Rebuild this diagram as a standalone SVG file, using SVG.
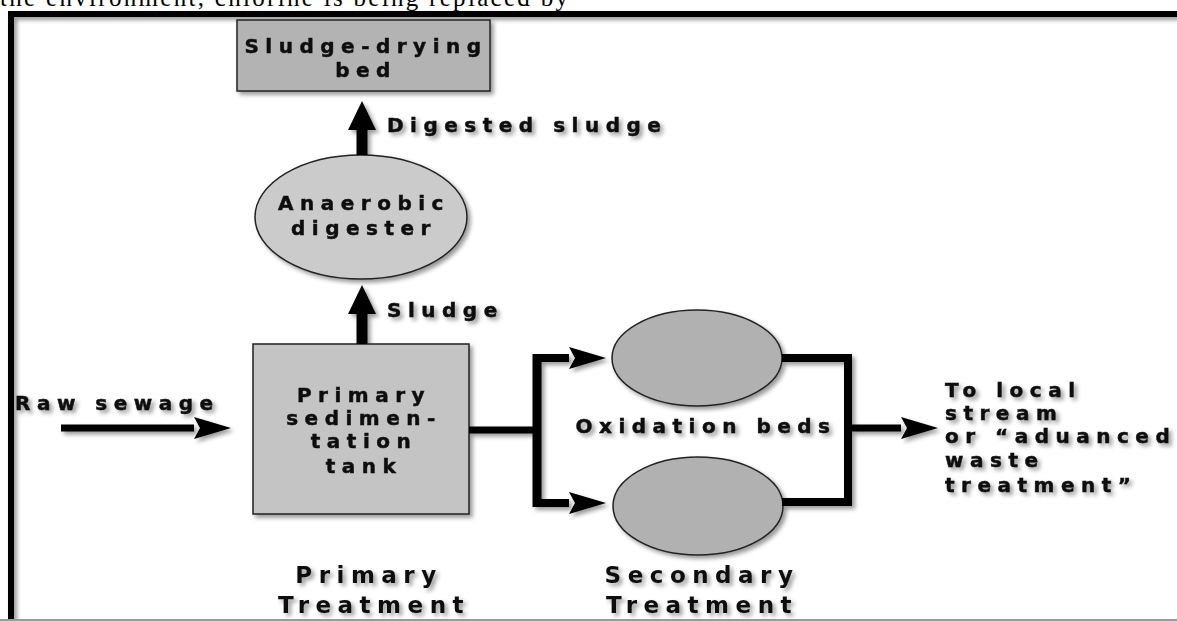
<svg xmlns="http://www.w3.org/2000/svg" width="1177" height="621" viewBox="0 0 1177 621">
<defs>
<filter id="sh" x="-10%" y="-10%" width="130%" height="130%">
<feDropShadow dx="3" dy="3" stdDeviation="2" flood-color="#000" flood-opacity="0.4"/>
</filter>
<marker id="ah" markerUnits="userSpaceOnUse" markerWidth="38" markerHeight="26" refX="0" refY="13" orient="auto" viewBox="0 0 38 26">
<path d="M0,2 L37,13 L0,24 L6,13 z" fill="#000"/>
</marker>
<marker id="av" markerUnits="userSpaceOnUse" markerWidth="30" markerHeight="30" refX="0" refY="15" orient="auto" viewBox="0 0 30 30">
<path d="M0,1 L29,15 L0,29 z" fill="#000"/>
</marker>
<style>
.lbl{font-family:"DejaVu Sans",Verdana,sans-serif;font-weight:bold;font-size:20px;letter-spacing:6.5px;fill:#111;stroke:#111;stroke-width:0.5}
.cat{font-family:"DejaVu Sans",Verdana,sans-serif;font-weight:bold;font-size:23px;letter-spacing:6.5px;fill:#111}
.mid{text-anchor:middle}
.node{stroke:#222;stroke-width:1.5}
.ln{fill:none;stroke:#000}
</style>
</defs>
<rect width="1177" height="621" fill="#fff"/>
<text x="0" y="6" textLength="568" lengthAdjust="spacing" font-family="Liberation Serif, serif" font-size="25" fill="#000">the environment, chlorine is being replaced by</text>
<g id="frame" filter="url(#sh)">
<path d="M11,621 V14 H1177" fill="none" stroke="#000" stroke-width="6"/>
</g>
<line x1="0" y1="620" x2="1177" y2="620" stroke="#9a9a9a" stroke-width="2"/>
<g filter="url(#sh)">
<g id="sludge-bed">
<rect class="node" x="237" y="20" width="253" height="71" fill="#b3b3b3"/>
<text class="lbl mid" x="366" y="53">Sludge-drying</text>
<text class="lbl mid" x="366" y="77">bed</text>
</g>
<g id="digester">
<ellipse class="node" cx="361" cy="217" rx="106" ry="62" fill="#cbcbcb"/>
<text class="lbl mid" x="364" y="210">Anaerobic</text>
<text class="lbl mid" x="364" y="235">digester</text>
</g>
<g id="primary-tank">
<rect class="node" x="253" y="344" width="216" height="170" fill="#c4c4c4"/>
<text class="lbl mid" x="364" y="402">Primary</text>
<text class="lbl mid" x="364" y="425">sedimen-</text>
<text class="lbl mid" x="364" y="448">tation</text>
<text class="lbl mid" x="364" y="473">tank</text>
</g>
<g id="oxidation-beds">
<ellipse class="node" cx="697" cy="358" rx="85" ry="48" fill="#b1b1b1"/>
<ellipse class="node" cx="698" cy="506" rx="85" ry="49" fill="#b1b1b1"/>
<text class="lbl mid" x="706" y="433">Oxidation beds</text>
</g>
<g id="connectors">
<line class="ln" x1="362" y1="155" x2="362" y2="130" stroke-width="11" marker-end="url(#av)"/>
<line class="ln" x1="362" y1="344" x2="362" y2="314" stroke-width="11" marker-end="url(#av)"/>
<line class="ln" x1="61" y1="428" x2="194" y2="428" stroke-width="7" marker-end="url(#ah)"/>
<path class="ln" d="M469,430 H537" stroke-width="7"/>
<path class="ln" d="M537,354 V507" stroke-width="9"/>
<line class="ln" x1="533" y1="358" x2="569" y2="358" stroke-width="8" marker-end="url(#ah)"/>
<line class="ln" x1="533" y1="503" x2="569" y2="503" stroke-width="8" marker-end="url(#ah)"/>
<path class="ln" d="M782,358 H848 V502 H782" stroke-width="8"/>
<line class="ln" x1="848" y1="428" x2="901" y2="428" stroke-width="7" marker-end="url(#ah)"/>
</g>
<g id="labels">
<text class="lbl" x="387" y="132">Digested sludge</text>
<text class="lbl" x="387" y="317">Sludge</text>
<text class="lbl" x="15" y="410">Raw sewage</text>
<text class="lbl" x="945" y="397">To local</text>
<text class="lbl" x="945" y="420">stream</text>
<text class="lbl" x="945" y="443">or “aduanced</text>
<text class="lbl" x="945" y="467">waste</text>
<text class="lbl" x="945" y="492">treatment”</text>
<text class="cat mid" x="369" y="583">Primary</text>
<text class="cat mid" x="374" y="613">Treatment</text>
<text class="cat mid" x="702" y="583">Secondary</text>
<text class="cat mid" x="702" y="613">Treatment</text>
</g>
</g>
</svg>
